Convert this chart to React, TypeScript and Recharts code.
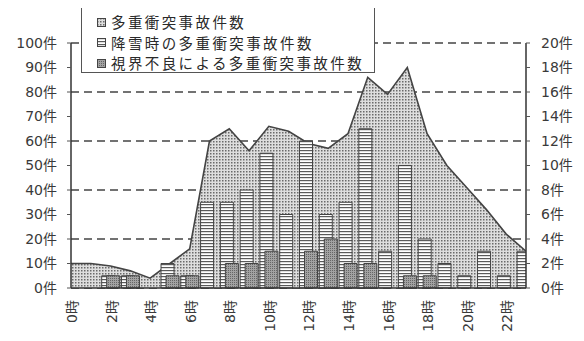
import {
  ComposedChart,
  Area,
  Bar,
  XAxis,
  YAxis,
  CartesianGrid,
  Legend,
} from "recharts";

// 時間帯別の事故件数 (0時〜23時)
const hours = [0, 1, 2, 3, 4, 5, 6, 7, 8, 9, 10, 11, 12, 13, 14, 15, 16, 17, 18, 19, 20, 21, 22, 23];
const totalCrashes = [10, 10, 9, 7, 4, 10, 16, 60, 65, 56, 66, 64, 59, 57, 63, 86, 79, 90, 63, 50, 41, 32, 22, 15];
const snowCrashes = [0, 0, 1, 1, 0, 2, 1, 7, 7, 8, 11, 6, 12, 6, 7, 13, 3, 10, 4, 2, 1, 3, 1, 3];
const fogCrashes = [0, 0, 1, 1, 0, 1, 1, 0, 2, 2, 3, 0, 3, 4, 2, 2, 0, 1, 1, 0, 0, 0, 0, 0];

const hourTicks = [0, 2, 4, 6, 8, 10, 12, 14, 16, 18, 20, 22];
const leftTicks = [0, 10, 20, 30, 40, 50, 60, 70, 80, 90, 100];
const rightTicks = [0, 2, 4, 6, 8, 10, 12, 14, 16, 18, 20];

const legendItems = [
  { label: "多重衝突事故件数", fill: "url(#dots)" },
  { label: "降雪時の多重衝突事故件数", fill: "url(#stripes)" },
  { label: "視界不良による多重衝突事故件数", fill: "url(#dark)" },
];

const data = hours.map((h, i) => ({
  hour: h,
  total: totalCrashes[i],
  snow: snowCrashes[i],
  fog: fogCrashes[i],
}));

const FONT = '"DejaVu Sans", "Noto Sans CJK JP", sans-serif';
const INK = "#3a3a3a";

function HourTick(props: any) {
  const { x, y, payload } = props;
  return (
    <text
      x={0}
      y={0}
      transform={`translate(${x + 1},${y}) rotate(-90)`}
      textAnchor="end"
      dominantBaseline="central"
      fontSize={14}
      fontFamily={FONT}
      fill={INK}
    >
      {payload.value}時
    </text>
  );
}

function LegendBox() {
  return (
    <div
      style={{
        width: 294,
        height: 70,
        boxSizing: "border-box",
        border: "1px solid #555",
        background: "#fff",
        padding: "8px 0 0 15px",
        fontFamily: '"Noto Sans CJK JP", sans-serif',
        fontSize: 14.5,
        letterSpacing: 2.4,
        color: "#2a2a2a",
        textAlign: "left",
      }}
    >
      {legendItems.map((item) => (
        <div key={item.label} style={{ height: 20.5, lineHeight: "20px", display: "flex", alignItems: "center" }}>
          <svg width={9} height={9} style={{ marginRight: 5, flex: "none" }}>
            <rect x={0.5} y={0.5} width={8} height={8} fill={item.fill} stroke="#444" />
          </svg>
          {item.label}
        </div>
      ))}
    </div>
  );
}

export default function App() {
  return (
    <div style={{ position: "relative", width: 584, height: 341, margin: -8, background: "#fff" }}>
      <div
        style={{
          position: "absolute",
          left: 7,
          top: 2,
          width: 575,
          height: 335,
          border: "1px solid #9a9a9a",
        }}
      />
      <ComposedChart
        width={584}
        height={341}
        data={data}
        margin={{ top: 43, right: 0, bottom: 13, left: 0 }}
        barGap={-8}
      >
        <defs>
          <pattern id="dots" width={3} height={3} patternUnits="userSpaceOnUse">
            <rect width={3} height={3} fill="#dedede" />
            <rect width={1.5} height={1.5} fill="#6a6a6a" />
          </pattern>
          <pattern id="stripes" width={4} height={3} patternUnits="userSpaceOnUse">
            <rect width={4} height={3} fill="#fff" />
            <rect width={4} height={1.2} fill="#5a5a5a" />
          </pattern>
          <pattern id="dark" width={2} height={2} patternUnits="userSpaceOnUse">
            <rect width={2} height={2} fill="#a2a2a2" />
            <rect width={1} height={1} fill="#666" />
          </pattern>
        </defs>
        <CartesianGrid
          yAxisId="left"
          vertical={false}
          stroke="#444"
          strokeWidth={1.3}
          strokeDasharray="8 5"
        />
        <XAxis
          dataKey="hour"
          type="number"
          domain={[0, 23]}
          ticks={hourTicks}
          allowDataOverflow
          interval={0}
          height={40}
          tickSize={0}
          tickMargin={12}
          tickLine={false}
          axisLine={{ stroke: "#333", strokeWidth: 1.5 }}
          tick={<HourTick />}
        />
        <YAxis
          yAxisId="left"
          domain={[0, 100]}
          ticks={leftTicks}
          width={71}
          tickSize={4}
          tickMargin={10}
          tickFormatter={(v) => `${v}件`}
          tick={{ fontSize: 14, fontFamily: FONT, fill: INK }}
          axisLine={{ stroke: "#333", strokeWidth: 1.5 }}
          tickLine={{ stroke: "#555" }}
        />
        <YAxis
          yAxisId="right"
          orientation="right"
          domain={[0, 20]}
          ticks={rightTicks}
          width={58}
          tickSize={4}
          tickMargin={11}
          tickFormatter={(v) => `${v}件`}
          tick={{ fontSize: 14, fontFamily: FONT, fill: INK }}
          axisLine={{ stroke: "#333", strokeWidth: 1.5 }}
          tickLine={{ stroke: "#555" }}
        />
        <Legend
          layout="vertical"
          align="center"
          verticalAlign="middle"
          wrapperStyle={{ top: 3, left: 81, width: 294 }}
          content={() => <LegendBox />}
        />
        <Area
          yAxisId="left"
          type="linear"
          dataKey="total"
          fill="url(#dots)"
          fillOpacity={1}
          stroke="#444"
          strokeWidth={1.6}
          dot={false}
          activeDot={false}
          isAnimationActive={false}
        />
        <Bar
          yAxisId="right"
          dataKey="snow"
          barSize={13}
          fill="url(#stripes)"
          stroke="#444"
          strokeWidth={1}
          isAnimationActive={false}
        />
        <Bar
          yAxisId="right"
          dataKey="fog"
          barSize={13}
          fill="url(#dark)"
          stroke="#444"
          strokeWidth={1}
          isAnimationActive={false}
        />
      </ComposedChart>
    </div>
  );
}
